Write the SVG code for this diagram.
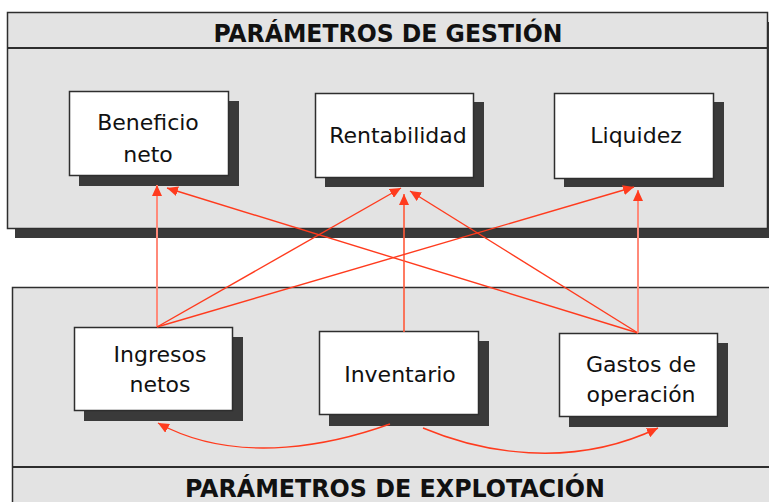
<svg xmlns="http://www.w3.org/2000/svg" width="769" height="502" viewBox="0 0 769 502">
<defs>
<style>
.panel{fill:#e3e3e3;stroke:#2e2e2e;stroke-width:1.5}
.shadow{fill:#3a3a3a}
.box{fill:#ffffff;stroke:#2e2e2e;stroke-width:1.5}
.hdr{font-family:"DejaVu Sans Condensed","DejaVu Sans",Verdana,sans-serif;font-weight:bold;font-size:25px;fill:#111;text-anchor:middle}
.lbl{font-family:"DejaVu Sans",Verdana,sans-serif;font-size:22px;fill:#111;text-anchor:middle}
.ln{fill:none;stroke:#ff3b1e;stroke-width:1.4}
.lt{fill:none;stroke:#ff8a7a;stroke-width:2}
.md{fill:none;stroke:#ff5a3a;stroke-width:1.6}
</style>
<marker id="ah" markerWidth="12" markerHeight="10" refX="11" refY="5" orient="auto" markerUnits="userSpaceOnUse">
<path d="M0,0 L11,5 L0,10 z" fill="#ff3b1e"/>
</marker>
</defs>

<g id="panel-gestion">
<rect class="shadow" x="15" y="22" width="762" height="216"/>
<rect class="panel" x="7.5" y="12.5" width="760" height="216"/>
<line x1="7.5" y1="48" x2="767.5" y2="48" stroke="#2e2e2e" stroke-width="2"/>
<text class="hdr" x="388" y="42" textLength="349" lengthAdjust="spacingAndGlyphs">PARÁMETROS DE GESTIÓN</text>
</g>

<g id="panel-explotacion">
<rect class="panel" x="12.5" y="287.5" width="770" height="230"/>
<line x1="12.5" y1="467" x2="769" y2="467" stroke="#2e2e2e" stroke-width="2"/>
<text class="hdr" x="395" y="497" textLength="420" lengthAdjust="spacingAndGlyphs">PARÁMETROS DE EXPLOTACIÓN</text>
</g>

<g id="beneficio-neto">
<rect class="shadow" x="79" y="101" width="160" height="85"/>
<rect class="box" x="69.5" y="91.5" width="159" height="84"/>
<text class="lbl" x="148" y="130">Beneficio</text>
<text class="lbl" x="148" y="162">neto</text>
</g>

<g id="rentabilidad">
<rect class="shadow" x="325" y="102" width="159" height="85"/>
<rect class="box" x="315.5" y="93.5" width="158" height="84"/>
<text class="lbl" x="398" y="143">Rentabilidad</text>
</g>

<g id="liquidez">
<rect class="shadow" x="564" y="102" width="160" height="85"/>
<rect class="box" x="554.5" y="93.5" width="159" height="85"/>
<text class="lbl" x="636" y="143">Liquidez</text>
</g>

<g id="ingresos-netos">
<rect class="shadow" x="84" y="337" width="159" height="84"/>
<rect class="box" x="74.5" y="327.5" width="158" height="83"/>
<text class="lbl" x="160" y="362">Ingresos</text>
<text class="lbl" x="160" y="392">netos</text>
</g>

<g id="inventario">
<rect class="shadow" x="329" y="341" width="160" height="85"/>
<rect class="box" x="319.5" y="331.5" width="159" height="83"/>
<text class="lbl" x="400" y="382">Inventario</text>
</g>

<g id="gastos-operacion">
<rect class="shadow" x="569" y="343" width="159" height="84"/>
<rect class="box" x="559.5" y="333.5" width="158" height="83"/>
<text class="lbl" x="641" y="372">Gastos de</text>
<text class="lbl" x="641" y="402">operación</text>
</g>

<g id="connectors">
<line class="lt" x1="157" y1="327" x2="157" y2="185" marker-end="url(#ah)"/>
<line class="ln" x1="638" y1="333" x2="167" y2="188" marker-end="url(#ah)"/>
<line class="ln" x1="157" y1="327" x2="401" y2="188" marker-end="url(#ah)"/>
<line class="md" x1="404" y1="332" x2="404" y2="194" marker-end="url(#ah)"/>
<line class="ln" x1="638" y1="333" x2="410" y2="191" marker-end="url(#ah)"/>
<line class="ln" x1="157" y1="327" x2="634" y2="187" marker-end="url(#ah)"/>
<line class="lt" x1="638" y1="333" x2="638" y2="190" marker-end="url(#ah)"/>
<path class="ln" d="M390,424 C340,442 240,468 158,423" marker-end="url(#ah)"/>
<path class="ln" d="M423,428 C480,452 570,470 658,428" marker-end="url(#ah)"/>
</g>
</svg>
